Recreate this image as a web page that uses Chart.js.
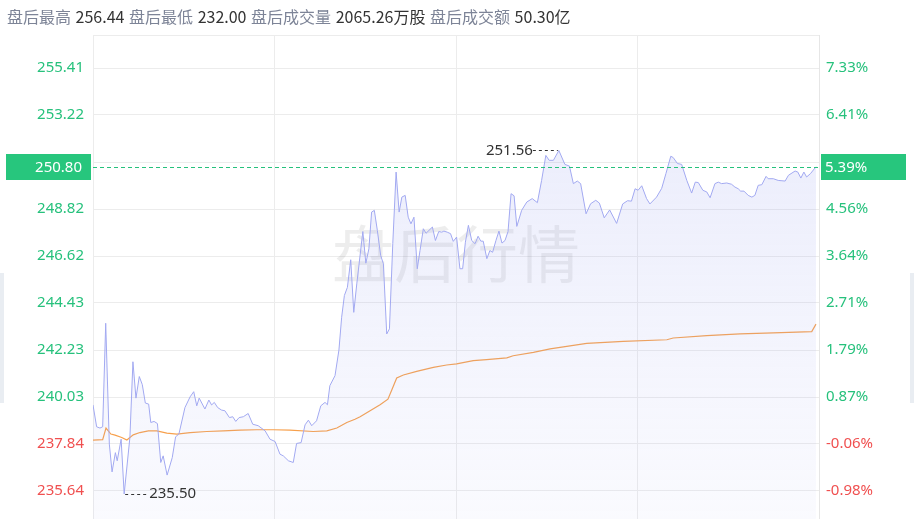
<!DOCTYPE html>
<html>
<head>
<meta charset="utf-8">
<script src="https://cdn.jsdelivr.net/npm/chart.js@4/dist/chart.umd.min.js"></script>
<style>
html, body { margin: 0; padding: 0; background: #fff; overflow: hidden; width: 914px; height: 519px; }
#wrap { position: relative; width: 914px; height: 519px; overflow: hidden; }
#myChart { position: absolute; left: 0; top: 0; }
#info { position: absolute; left: 7px; top: 4px; font: 16px "Noto Sans CJK SC", sans-serif; color: #333; white-space: nowrap; word-spacing: 1px; }
#info .k { color: #7d8497; }
.side { position: absolute; top: 273px; width: 4px; height: 130px; background: #e9edf2; }
</style>
</head>
<body>
<div id="wrap">
  <canvas id="myChart" width="914" height="544"></canvas>
  <div id="info"><span class="k">盘后最高</span> 256.44 <span class="k">盘后最低</span> 232.00 <span class="k">盘后成交量</span> 2065.26万股 <span class="k">盘后成交额</span> 50.30亿</div>
  <div class="side" style="left:0"></div>
  <div class="side" style="left:910px"></div>
</div>
<script>
// after-hours minute chart
const PREV_CLOSE = 237.98
const LAST_PRICE = 250.80
const LAST_PCT = "5.39%"
const HIGH_PRICE = 251.56
const LOW_PRICE = 235.50

// minutes since 16:00 and price
const priceTimes = [0, 1.2, 2.3, 3.2, 4.2, 5.4, 6.3, 7.4, 8.0, 9.3,
    10.3, 12.2, 13.2, 14.2, 15.3, 16.3, 17.3, 18.4, 19.1, 20.2,
    21.3, 22.4, 23.2, 24.5, 26.2, 27.3, 28.4, 30.4, 32.1, 33.3,
    34.3, 35.1, 37.0, 38.3, 39.2, 40.1, 41.2, 42.5, 43.6, 45.1,
    46.2, 47.2, 48.3, 49.7, 51.3, 52.8, 54.6, 56.9, 58.5, 60.2,
    61.8, 62.9, 64.6, 66.2, 67.3, 68.8, 70.1, 71.2, 72.3, 73.9,
    75.3, 76.7, 77.5, 78.3, 80.0, 81.3, 82.2, 83.1, 84.1, 85.2,
    86.2, 87.2, 89.2, 90.2, 91.2, 92.1, 93.0, 94.0, 95.1, 96.0,
    97.1, 98.0, 99.1, 100.2, 101.2, 102.1, 103.2, 104.2, 105.1, 106.1,
    107.2, 108.1, 109.2, 110.1, 112.2, 113.2, 114.3, 115.3, 116.0, 117.1,
    118.2, 119.1, 120.2, 121.3, 122.2, 123.1, 124.1, 125.2, 126.3, 127.3,
    128.2, 129.0, 130.2, 131.2, 132.1, 133.2, 134.2, 135.2, 136.2, 137.2,
    138.2, 139.2, 140.1, 141.7, 143.4, 145.2, 146.9, 148.3, 149.7, 150.8,
    152.2, 154.0, 156.0, 157.5, 158.8, 160.1, 161.2, 163.0, 164.5, 166.2,
    167.4, 169.0, 170.8, 173.1, 175.1, 176.7, 178.0, 179.2, 180.2, 181.4,
    183.0, 184.1, 186.3, 188.0, 189.4, 191.0, 191.8, 193.2, 194.6, 196.3,
    197.9, 199.1, 200.1, 201.6, 202.9, 204.0, 205.6, 206.7, 207.8, 209.5,
    211.1, 212.2, 213.3, 214.1, 215.2, 216.6, 217.8, 218.8, 219.9, 221.1,
    222.5, 223.2, 224.9, 226.5, 228.8, 229.9, 232.1, 233.0, 234.0, 235.0,
    235.9, 237.2, 239.0]
const prices = [239.66, 238.64, 238.58, 238.64, 243.48, 237.83, 236.53, 237.43, 237.05, 238.06,
    235.50, 238.14, 241.68, 239.98, 240.99, 240.61, 239.75, 239.70, 238.84, 238.89,
    238.79, 236.97, 237.28, 236.38, 237.20, 238.17, 238.30, 239.54, 240.04, 240.28,
    239.62, 239.98, 239.47, 239.89, 239.66, 239.78, 239.54, 239.42, 239.39, 239.07,
    239.11, 238.89, 239.07, 239.11, 239.26, 238.76, 238.69, 238.45, 238.06, 237.95,
    237.36, 237.28, 237.05, 236.97, 237.86, 237.90, 238.73, 238.95, 238.69, 238.92,
    239.62, 239.78, 239.67, 240.56, 241.03, 242.23, 243.76, 244.78, 245.16, 246.45,
    243.99, 245.32, 247.77, 246.29, 246.96, 248.68, 248.76, 247.82, 246.65, 246.26,
    242.98, 243.22, 247.20, 250.55, 248.68, 249.38, 249.46, 248.44, 248.13, 248.44,
    246.03, 246.88, 247.90, 247.69, 247.98, 247.35, 247.77, 247.74, 247.79, 247.74,
    247.67, 247.31, 247.51, 246.03, 246.03, 247.27, 248.06, 247.35, 247.20, 247.55,
    247.32, 247.32, 246.50, 246.88, 246.80, 247.35, 247.79, 247.23, 247.35, 247.77,
    249.54, 249.44, 248.01, 248.76, 249.15, 249.31, 249.12, 250.16, 251.33, 251.10,
    251.10, 251.56, 250.91, 250.83, 250.01, 250.13, 250.01, 248.60, 249.07, 249.23,
    249.10, 248.41, 248.78, 248.15, 249.06, 249.21, 249.19, 249.77, 249.70, 249.91,
    249.31, 249.06, 249.38, 249.79, 250.48, 251.29, 251.23, 250.95, 250.91, 250.16,
    249.57, 250.08, 250.06, 249.70, 249.62, 249.35, 250.01, 250.08, 250.01, 250.04,
    249.98, 249.85, 249.77, 249.66, 249.66, 249.46, 249.38, 249.46, 249.93, 249.96,
    250.35, 250.24, 250.24, 250.16, 250.13, 250.40, 250.60, 250.55, 250.27, 250.55,
    250.32, 250.48, 250.80]

// average price line
const avgTimes = [0, 3.2, 4.3, 5.9, 7.3, 9.5, 11.2, 13.3, 15.5, 18.3,
    21.1, 24.4, 27.7, 32.1, 37.6, 43.1, 48.6, 54.1, 59.6, 65.1,
    72.8, 77.3, 80.6, 83.9, 86.6, 88.3, 91.6, 94.9, 97.5, 98.8,
    100.4, 102.6, 107.0, 112.5, 116.9, 120.2, 125.7, 130.1, 136.8, 138.9,
    145.6, 151.1, 154.4, 163.2, 175.3, 189.7, 191.8, 202.9, 213.9, 224.9,
    237.6, 239.0]
const avgPrices = [238.02, 238.04, 238.58, 238.30, 238.25, 238.14, 238.02, 238.26, 238.37, 238.45,
    238.45, 238.34, 238.30, 238.37, 238.42, 238.45, 238.48, 238.50, 238.50, 238.48,
    238.42, 238.45, 238.58, 238.84, 238.99, 239.11, 239.39, 239.67, 239.93, 240.37,
    240.92, 241.06, 241.23, 241.42, 241.53, 241.58, 241.73, 241.78, 241.86, 241.96,
    242.12, 242.28, 242.35, 242.54, 242.63, 242.71, 242.79, 242.90, 242.98, 243.03,
    243.09, 243.44]

const tickValues = [235.64, 237.84, 240.03, 242.23, 244.43, 246.62, 248.82, 251.02, 253.22, 255.41]
const percentLabels = ["-0.98%", "-0.06%", "0.87%", "1.79%", "2.71%", "3.64%", "4.56%", "5.48%", "6.41%", "7.33%"]
const timeTicks = [0, 60, 120, 180, 240]

const GREEN = "#26c17c"
const RED = "#f05050"
const GRID = "#ececec"
const TICK_FONT = { family: "Noto Sans", size: 15 }

const tickColor = ctx => ctx.tick && ctx.tick.value < PREV_CLOSE ? RED : GREEN

function dashTo(ctx, x1, x2, y) {
    ctx.save()
    ctx.strokeStyle = "#333"
    ctx.lineWidth = 1
    ctx.setLineDash([3, 3])
    ctx.beginPath()
    ctx.moveTo(x1, Math.round(y) + 0.5)
    ctx.lineTo(x2, Math.round(y) + 0.5)
    ctx.stroke()
    ctx.restore()
}

const overlayPlugin = {
    id: "overlay",
    beforeDatasetsDraw(chart) {
        const { ctx, chartArea } = chart
        ctx.save()
        ctx.font = '62px "Noto Sans CJK SC"'
        ctx.fillStyle = "rgba(0,0,0,0.07)"
        ctx.textAlign = "center"
        ctx.textBaseline = "middle"
        ctx.fillText("盘后行情", (chartArea.left + chartArea.right) / 2, 254)
        ctx.restore()
    },
    afterDraw(chart) {
        const { ctx, chartArea, scales } = chart
        const x = scales.x, y = scales.y
        ctx.save()
        // top border
        ctx.strokeStyle = GRID
        ctx.lineWidth = 1
        ctx.beginPath()
        ctx.moveTo(chartArea.left, chartArea.top + 0.5)
        ctx.lineTo(chartArea.right, chartArea.top + 0.5)
        ctx.stroke()

        // last price dashed line
        const ly = Math.round(y.getPixelForValue(LAST_PRICE)) + 0.5
        ctx.strokeStyle = GREEN
        ctx.setLineDash([4, 3])
        ctx.beginPath()
        ctx.moveTo(chartArea.left, ly)
        ctx.lineTo(chartArea.right, ly)
        ctx.stroke()
        ctx.setLineDash([])

        // label boxes
        ctx.fillStyle = "#27c67d"
        ctx.fillRect(6, ly - 13.5, 85, 26)
        ctx.fillRect(chartArea.right + 2, ly - 13.5, 85, 26)
        ctx.fillStyle = "#fff"
        ctx.font = '15px "Noto Sans"'
        ctx.textBaseline = "middle"
        ctx.textAlign = "right"
        ctx.fillText(LAST_PRICE.toFixed(2), 82, ly)
        ctx.textAlign = "left"
        ctx.fillText(LAST_PCT, chartArea.right + 6, ly)

        // high / low marks
        const hi = prices.indexOf(HIGH_PRICE)
        const lo = prices.indexOf(LOW_PRICE)
        const hx = x.getPixelForValue(priceTimes[hi]), hy = y.getPixelForValue(HIGH_PRICE)
        const lx = x.getPixelForValue(priceTimes[lo]), ly2 = y.getPixelForValue(LOW_PRICE)
        dashTo(ctx, hx - 26, hx - 1, hy)
        dashTo(ctx, lx + 1, lx + 25, ly2)
        ctx.fillStyle = "#333"
        ctx.font = '15px "Noto Sans"'
        ctx.textBaseline = "middle"
        ctx.textAlign = "right"
        ctx.fillText(HIGH_PRICE.toFixed(2), hx - 26, hy)
        ctx.textAlign = "left"
        ctx.fillText(LOW_PRICE.toFixed(2), lx + 25, ly2)
        ctx.restore()
    }
}

new Chart("myChart", {
    type: "line",
    data: {
        datasets: [{
            data: priceTimes.map((t, i) => ({ x: t, y: prices[i] })),
            borderColor: "#a2a9f1",
            borderWidth: 1,
            pointRadius: 0,
            tension: 0,
            fill: "start",
            backgroundColor: ctx => {
                const area = ctx.chart.chartArea
                if (!area) return "rgba(160,168,240,0.1)"
                const g = ctx.chart.ctx.createLinearGradient(0, area.top, 0, area.bottom)
                g.addColorStop(0, "rgba(160,168,240,0.24)")
                g.addColorStop(1, "rgba(160,168,240,0.05)")
                return g
            }
        }, {
            data: avgTimes.map((t, i) => ({ x: t, y: avgPrices[i] })),
            borderColor: "#f7a04c",
            borderWidth: 1.2,
            pointRadius: 0,
            tension: 0,
            fill: false
        }]
    },
    options: {
        responsive: false,
        animation: false,
        devicePixelRatio: 1,
        layout: { padding: { top: 35, bottom: 1, left: 0, right: 0 } },
        plugins: {
            legend: { display: false },
            tooltip: { enabled: false }
        },
        scales: {
            x: {
                type: "linear",
                min: 0,
                max: 240,
                afterBuildTicks: scale => { scale.ticks = timeTicks.map(v => ({ value: v })) },
                afterFit: scale => { scale.height = 0 },
                ticks: { display: false },
                grid: { color: GRID, drawTicks: false },
                border: { display: false }
            },
            y: {
                position: "left",
                min: 234.00,
                max: 256.96,
                afterBuildTicks: scale => { scale.ticks = tickValues.map(v => ({ value: v })) },
                afterFit: scale => { scale.width = 93 },
                ticks: {
                    font: TICK_FONT,
                    color: tickColor,
                    padding: 9,
                    callback: v => v.toFixed(2)
                },
                grid: { color: GRID, drawTicks: false },
                border: { display: false }
            },
            y2: {
                position: "right",
                min: 234.00,
                max: 256.96,
                afterBuildTicks: scale => { scale.ticks = tickValues.map(v => ({ value: v })) },
                afterFit: scale => { scale.width = 95 },
                ticks: {
                    font: TICK_FONT,
                    color: tickColor,
                    padding: 7,
                    callback: (v, i) => percentLabels[i]
                },
                grid: { display: false, drawTicks: false },
                border: { display: true, color: "#e6e6e6" }
            }
        }
    },
    plugins: [overlayPlugin]
})
</script>
</body>
</html>
